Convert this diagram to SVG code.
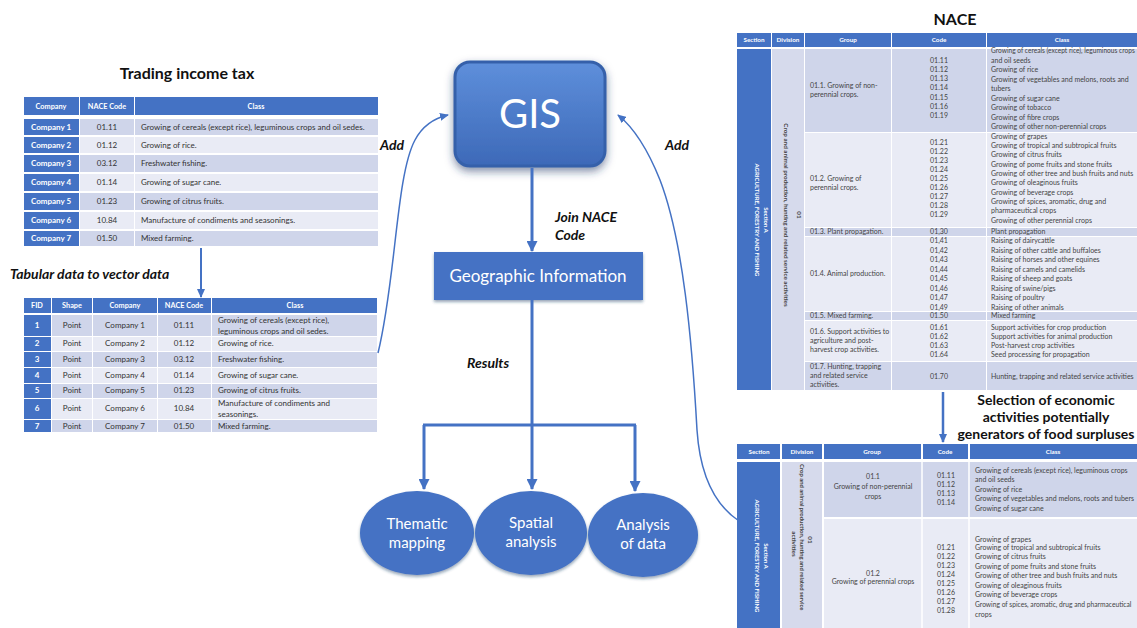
<svg xmlns="http://www.w3.org/2000/svg" width="1137" height="628" viewBox="0 0 1137 628">
<defs>
<style>
text{font-family:Lato,"Liberation Sans",sans-serif}
.hdr{fill:#4472C4}
.lav{fill:#CFD5EA}
.lgt{fill:#E9EBF5}
.div{fill:#D6DAEC}
.ht{fill:#fff;font-weight:bold;font-size:7.3px;text-anchor:middle}
.ct{fill:#333;font-size:8px}
.cc{fill:#333;font-size:8px;text-anchor:middle}
.wt{fill:#fff;font-weight:bold;font-size:8px;text-anchor:middle}
.nh{fill:#fff;font-weight:bold;font-size:6.3px;text-anchor:middle}
.n{fill:#444;font-size:7px}
.nm{fill:#444;font-size:7px;text-anchor:middle}
.rot{fill:#fff;font-weight:bold;font-size:6px;text-anchor:middle}
.rotd{fill:#444;font-weight:bold;font-size:6.3px;text-anchor:middle}
.lbl{fill:#111;font-weight:bold;font-style:italic;font-size:14px}
.ttl{fill:#111;font-weight:bold;font-size:16px;text-anchor:middle}
.sel{fill:#111;font-weight:bold;font-size:14px;text-anchor:middle}
.et{fill:#fff;font-size:15px;text-anchor:middle}
.con{fill:none;stroke:#4472C4}
</style>
<linearGradient id="gisg" x1="0" y1="0" x2="0" y2="1">
<stop offset="0" stop-color="#5E8FDB"/>
<stop offset="1" stop-color="#3D69B8"/>
</linearGradient>
<filter id="sh" x="-20%" y="-20%" width="140%" height="150%">
<feDropShadow dx="0" dy="4" stdDeviation="4" flood-color="#1F3864" flood-opacity="0.55"/>
</filter>
<filter id="sh2" x="-10%" y="-10%" width="120%" height="130%">
<feDropShadow dx="0" dy="2" stdDeviation="1.5" flood-color="#1F3864" flood-opacity="0.45"/>
</filter>
<marker id="ah" markerWidth="11" markerHeight="11" refX="10" refY="5.5" orient="auto" markerUnits="userSpaceOnUse">
<path d="M0,0 L11,5.5 L0,11 z" fill="#4472C4"/>
</marker>
<marker id="ahs" markerWidth="9" markerHeight="8" refX="8" refY="4" orient="auto" markerUnits="userSpaceOnUse">
<path d="M0,0 L9,4 L0,8 z" fill="#4472C4"/>
</marker>
</defs>
<rect width="1137" height="628" fill="#fff"/>

<!-- Titles and labels -->
<g id="labels">
<text class="ttl" x="187" y="79">Trading income tax</text>
<text class="lbl" x="10" y="279">Tabular data to vector data</text>
<text class="lbl" x="380" y="150">Add</text>
<text class="lbl" x="665" y="150">Add</text>
<text class="lbl" x="555" y="222">Join NACE</text>
<text class="lbl" x="555" y="240">Code</text>
<text class="lbl" x="467" y="368">Results</text>
<text class="ttl" x="955" y="25">NACE</text>
<text class="sel" x="1046" y="405">Selection of economic</text>
<text class="sel" x="1046" y="422">activities potentially</text>
<text class="sel" x="1046" y="439">generators of food surpluses</text>
</g>

<!-- Trading income tax table -->
<g id="trading-table">
<rect class="hdr" x="24" y="97" width="55" height="18"/>
<rect class="hdr" x="80" y="97" width="54" height="18"/>
<rect class="hdr" x="135" y="97" width="243" height="18"/>
<text class="ht" x="51" y="109">Company</text>
<text class="ht" x="107" y="109">NACE Code</text>
<text class="ht" x="256" y="109">Class</text>

<rect class="hdr" x="24" y="119" width="55" height="16"/><rect class="lav" x="80" y="119" width="54" height="16"/><rect class="lav" x="135" y="119" width="243" height="16"/>
<rect class="hdr" x="24" y="137" width="55" height="16"/><rect class="lgt" x="80" y="137" width="54" height="16"/><rect class="lgt" x="135" y="137" width="243" height="16"/>
<rect class="hdr" x="24" y="155" width="55" height="17"/><rect class="lav" x="80" y="155" width="54" height="17"/><rect class="lav" x="135" y="155" width="243" height="17"/>
<rect class="hdr" x="24" y="174" width="55" height="17"/><rect class="lgt" x="80" y="174" width="54" height="17"/><rect class="lgt" x="135" y="174" width="243" height="17"/>
<rect class="hdr" x="24" y="193" width="55" height="17"/><rect class="lav" x="80" y="193" width="54" height="17"/><rect class="lav" x="135" y="193" width="243" height="17"/>
<rect class="hdr" x="24" y="212" width="55" height="17"/><rect class="lgt" x="80" y="212" width="54" height="17"/><rect class="lgt" x="135" y="212" width="243" height="17"/>
<rect class="hdr" x="24" y="231" width="55" height="15"/><rect class="lav" x="80" y="231" width="54" height="15"/><rect class="lav" x="135" y="231" width="243" height="15"/>

<text class="wt" x="51" y="130">Company 1</text><text class="cc" x="107" y="130">01.11</text><text class="ct" x="141" y="130">Growing of cereals  (except  rice), leguminous  crops and oil sedes.</text>
<text class="wt" x="51" y="148">Company 2</text><text class="cc" x="107" y="148">01.12</text><text class="ct" x="141" y="148">Growing of rice.</text>
<text class="wt" x="51" y="166">Company 3</text><text class="cc" x="107" y="166">03.12</text><text class="ct" x="141" y="166">Freshwater  fishing.</text>
<text class="wt" x="51" y="185">Company 4</text><text class="cc" x="107" y="185">01.14</text><text class="ct" x="141" y="185">Growing of sugar cane.</text>
<text class="wt" x="51" y="204">Company 5</text><text class="cc" x="107" y="204">01.23</text><text class="ct" x="141" y="204">Growing of citrus fruits.</text>
<text class="wt" x="51" y="223">Company 6</text><text class="cc" x="107" y="223">10.84</text><text class="ct" x="141" y="223">Manufacture  of condiments and seasonings.</text>
<text class="wt" x="51" y="241">Company 7</text><text class="cc" x="107" y="241">01.50</text><text class="ct" x="141" y="241">Mixed farming.</text>
</g>

<!-- Vector data table -->
<g id="vector-table">
<rect class="hdr" x="24" y="298" width="27" height="15"/>
<rect class="hdr" x="52" y="298" width="40" height="15"/>
<rect class="hdr" x="93" y="298" width="64" height="15"/>
<rect class="hdr" x="158" y="298" width="53" height="15"/>
<rect class="hdr" x="212" y="298" width="165" height="15"/>
<text class="ht" x="37" y="308">FID</text>
<text class="ht" x="72" y="308">Shape</text>
<text class="ht" x="125" y="308">Company</text>
<text class="ht" x="184" y="308">NACE Code</text>
<text class="ht" x="295" y="308">Class</text>

<rect class="hdr" x="24" y="315" width="27" height="21"/><rect class="lav" x="52" y="315" width="325" height="21"/>
<rect class="hdr" x="24" y="337" width="27" height="14"/><rect class="lgt" x="52" y="337" width="325" height="14"/>
<rect class="hdr" x="24" y="352" width="27" height="15"/><rect class="lav" x="52" y="352" width="325" height="15"/>
<rect class="hdr" x="24" y="368" width="27" height="15"/><rect class="lgt" x="52" y="368" width="325" height="15"/>
<rect class="hdr" x="24" y="384" width="27" height="14"/><rect class="lav" x="52" y="384" width="325" height="14"/>
<rect class="hdr" x="24" y="399" width="27" height="20"/><rect class="lgt" x="52" y="399" width="325" height="20"/>
<rect class="hdr" x="24" y="420" width="27" height="12"/><rect class="lav" x="52" y="420" width="325" height="12"/>
<g stroke="#fff" stroke-width="1">
<line x1="92.5" y1="315" x2="92.5" y2="432"/>
<line x1="157.5" y1="315" x2="157.5" y2="432"/>
<line x1="211.5" y1="315" x2="211.5" y2="432"/>
</g>

<text class="wt" x="37" y="328">1</text><text class="cc" x="72" y="328">Point</text><text class="cc" x="125" y="328">Company 1</text><text class="cc" x="184" y="328">01.11</text>
<text class="ct" x="218" y="323">Growing of cereals  (except  rice),</text><text class="ct" x="218" y="334">leguminous  crops and oil sedes.</text>
<text class="wt" x="37" y="346">2</text><text class="cc" x="72" y="346">Point</text><text class="cc" x="125" y="346">Company 2</text><text class="cc" x="184" y="346">01.12</text><text class="ct" x="218" y="346">Growing of rice.</text>
<text class="wt" x="37" y="362">3</text><text class="cc" x="72" y="362">Point</text><text class="cc" x="125" y="362">Company 3</text><text class="cc" x="184" y="362">03.12</text><text class="ct" x="218" y="362">Freshwater  fishing.</text>
<text class="wt" x="37" y="378">4</text><text class="cc" x="72" y="378">Point</text><text class="cc" x="125" y="378">Company 4</text><text class="cc" x="184" y="378">01.14</text><text class="ct" x="218" y="378">Growing of sugar cane.</text>
<text class="wt" x="37" y="393">5</text><text class="cc" x="72" y="393">Point</text><text class="cc" x="125" y="393">Company 5</text><text class="cc" x="184" y="393">01.23</text><text class="ct" x="218" y="393">Growing of citrus  fruits.</text>
<text class="wt" x="37" y="411">6</text><text class="cc" x="72" y="411">Point</text><text class="cc" x="125" y="411">Company 6</text><text class="cc" x="184" y="411">10.84</text>
<text class="ct" x="218" y="406">Manufacture  of condiments and</text><text class="ct" x="218" y="417">seasonings.</text>
<text class="wt" x="37" y="429">7</text><text class="cc" x="72" y="429">Point</text><text class="cc" x="125" y="429">Company 7</text><text class="cc" x="184" y="429">01.50</text><text class="ct" x="218" y="429">Mixed farming.</text>
</g>

<!-- GIS -->
<g id="gis">
<rect x="455" y="62" width="150" height="104" rx="15" fill="url(#gisg)" stroke="#3560AA" stroke-width="3" filter="url(#sh)"/>
<text x="530" y="128" fill="#fff" font-size="40" text-anchor="middle">GIS</text>
</g>

<!-- Geographic Information -->
<g id="geo-info">
<rect x="434" y="252" width="209" height="48" fill="#4472C4" filter="url(#sh2)"/>
<text x="538" y="282" fill="#fff" font-size="17" text-anchor="middle">Geographic  Information</text>
</g>

<g id="thematic">
<ellipse cx="417" cy="533" rx="57" ry="42" fill="#4472C4" filter="url(#sh2)"/>
<text class="et" x="417" y="529">Thematic</text>
<text class="et" x="417" y="548">mapping</text>
</g>
<g id="spatial">
<ellipse cx="531" cy="533" rx="56" ry="42" fill="#4472C4" filter="url(#sh2)"/>
<text class="et" x="531" y="528">Spatial</text>
<text class="et" x="531" y="547">analysis</text>
</g>
<g id="analysis">
<ellipse cx="643" cy="535" rx="55" ry="42" fill="#4472C4" filter="url(#sh2)"/>
<text class="et" x="643" y="530">Analysis</text>
<text class="et" x="643" y="549">of data</text>
</g>

<!-- NACE table -->
<g id="nace-table">
<rect class="hdr" x="737" y="33" width="34" height="14"/>
<rect class="hdr" x="772" y="33" width="32" height="14"/>
<rect class="hdr" x="805" y="33" width="86" height="14"/>
<rect class="hdr" x="892" y="33" width="94" height="14"/>
<rect class="hdr" x="987" y="33" width="150" height="14"/>
<text class="nh" x="754" y="42">Section</text>
<text class="nh" x="788" y="42">Division</text>
<text class="nh" x="848" y="42">Group</text>
<text class="nh" x="939" y="42">Code</text>
<text class="nh" x="1062" y="42">Class</text>

<rect class="hdr" x="737" y="49" width="34" height="341"/>
<rect class="div" x="772" y="49" width="32" height="341"/>
<rect class="lav" x="805" y="49" width="332" height="83"/>
<rect class="lgt" x="805" y="133" width="332" height="94"/>
<rect class="lav" x="805" y="228" width="332" height="8"/>
<rect class="lgt" x="805" y="237" width="332" height="74"/>
<rect class="lav" x="805" y="312" width="332" height="8"/>
<rect class="lgt" x="805" y="321" width="332" height="40"/>
<rect class="lav" x="805" y="362" width="332" height="28"/>
<g stroke="#fff" stroke-width="1">
<line x1="891.5" y1="49" x2="891.5" y2="390"/>
<line x1="986.5" y1="49" x2="986.5" y2="390"/>
</g>

<g transform="translate(764,220) rotate(90)"><text class="rot" x="0" y="0">Section A</text></g>
<g transform="translate(755,220) rotate(90)"><text class="rot" x="0" y="0">AGRICULTURE, FORESTRY AND FISHING</text></g>
<g transform="translate(797,215) rotate(90)"><text class="rotd" x="0" y="0">01</text></g>
<g transform="translate(784,215) rotate(90)"><text class="rotd" x="0" y="0">Crop and animal production, hunting and related service activities</text></g>

<text class="n" x="810" y="88">01.1. Growing of non-</text>
<text class="n" x="810" y="97">perennial crops.</text>
<text class="nm" x="939" y="63">01.11</text><text class="nm" x="939" y="72">01.12</text><text class="nm" x="939" y="81">01.13</text><text class="nm" x="939" y="90">01.14</text><text class="nm" x="939" y="100">01.15</text><text class="nm" x="939" y="109">01.16</text><text class="nm" x="939" y="118">01.19</text>
<text class="n" x="991" y="53" style="font-size:6.6px">Growing of cereals (except  rice), leguminous crops</text>
<text class="n" x="991" y="62.5">and oil seeds</text>
<text class="n" x="991" y="72">Growing of rice</text>
<text class="n" x="991" y="81.5">Growing of vegetables and melons, roots and</text>
<text class="n" x="991" y="91">tubers</text>
<text class="n" x="991" y="100.5">Growing of sugar cane</text>
<text class="n" x="991" y="110">Growing of tobacco</text>
<text class="n" x="991" y="119.5">Growing of fibre crops</text>
<text class="n" x="991" y="129">Growing of other non-perennial crops</text>

<text class="n" x="810" y="181">01.2. Growing of</text>
<text class="n" x="810" y="190">perennial crops.</text>
<text class="nm" x="939" y="145">01.21</text><text class="nm" x="939" y="154">01.22</text><text class="nm" x="939" y="163">01.23</text><text class="nm" x="939" y="172">01.24</text><text class="nm" x="939" y="181">01.25</text><text class="nm" x="939" y="190">01.26</text><text class="nm" x="939" y="199">01.27</text><text class="nm" x="939" y="208">01.28</text><text class="nm" x="939" y="217">01.29</text>
<text class="n" x="991" y="139">Growing of grapes</text>
<text class="n" x="991" y="148">Growing of tropical and subtropical fruits</text>
<text class="n" x="991" y="157">Growing of citrus fruits</text>
<text class="n" x="991" y="167">Growing of pome fruits and stone fruits</text>
<text class="n" x="991" y="176">Growing of other tree and bush fruits and nuts</text>
<text class="n" x="991" y="185">Growing of oleaginous fruits</text>
<text class="n" x="991" y="195">Growing of beverage crops</text>
<text class="n" x="991" y="204">Growing of spices, aromatic, drug and</text>
<text class="n" x="991" y="213">pharmaceutical crops</text>
<text class="n" x="991" y="223">Growing of other perennial crops</text>

<text class="n" x="810" y="234">01.3. Plant propagation.</text>
<text class="nm" x="939" y="234">01,30</text>
<text class="n" x="991" y="234">Plant propagation</text>

<text class="n" x="810" y="276">01.4. Animal production.</text>
<text class="nm" x="939" y="243">01,41</text><text class="nm" x="939" y="252.5">01,42</text><text class="nm" x="939" y="262">01,43</text><text class="nm" x="939" y="271.5">01,44</text><text class="nm" x="939" y="281">01,45</text><text class="nm" x="939" y="290.5">01,46</text><text class="nm" x="939" y="300">01,47</text><text class="nm" x="939" y="309.5">01,49</text>
<text class="n" x="991" y="243">Raising of dairycattle</text>
<text class="n" x="991" y="252.5">Raising of other cattle and buffaloes</text>
<text class="n" x="991" y="262">Raising of horses and other equines</text>
<text class="n" x="991" y="271.5">Raising of camels and camelids</text>
<text class="n" x="991" y="281">Raising of sheep and goats</text>
<text class="n" x="991" y="290.5">Raising of swine/pigs</text>
<text class="n" x="991" y="300">Raising of poultry</text>
<text class="n" x="991" y="309.5">Raising of other animals</text>

<text class="n" x="810" y="318">01.5. Mixed farming.</text>
<text class="nm" x="939" y="318">01.50</text>
<text class="n" x="991" y="318">Mixed farming</text>

<text class="n" x="810" y="334">01.6. Support activities to</text>
<text class="n" x="810" y="343">agriculture and post-</text>
<text class="n" x="810" y="352">harvest crop activities.</text>
<text class="nm" x="939" y="330">01.61</text><text class="nm" x="939" y="339">01.62</text><text class="nm" x="939" y="348">01.63</text><text class="nm" x="939" y="357">01.64</text>
<text class="n" x="991" y="330">Support activities for crop production</text>
<text class="n" x="991" y="339">Support activities for animal production</text>
<text class="n" x="991" y="348">Post-harvest crop activities</text>
<text class="n" x="991" y="357">Seed processing for propagation</text>

<text class="n" x="810" y="369">01.7. Hunting, trapping</text>
<text class="n" x="810" y="378">and related service</text>
<text class="n" x="810" y="387">activities.</text>
<text class="nm" x="939" y="379">01.70</text>
<text class="n" x="991" y="379">Hunting, trapping and related service activities</text>
</g>

<!-- Selected NACE table -->
<g id="selected-table">
<rect class="hdr" x="737" y="444" width="43" height="15"/>
<rect class="hdr" x="782" y="444" width="40" height="15"/>
<rect class="hdr" x="824" y="444" width="97" height="15"/>
<rect class="hdr" x="923" y="444" width="45" height="15"/>
<rect class="hdr" x="970" y="444" width="167" height="15"/>
<text class="nh" x="759" y="454">Section</text>
<text class="nh" x="802" y="454">Division</text>
<text class="nh" x="872" y="454">Group</text>
<text class="nh" x="945" y="454">Code</text>
<text class="nh" x="1053" y="454">Class</text>

<rect class="hdr" x="737" y="462" width="43" height="166"/>
<rect class="div" x="782" y="462" width="40" height="166"/>
<rect class="lav" x="824" y="462" width="313" height="55"/>
<rect class="lgt" x="824" y="519" width="313" height="109"/>
<g stroke="#fff" stroke-width="1.5">
<line x1="922" y1="462" x2="922" y2="628"/>
<line x1="969" y1="462" x2="969" y2="628"/>
</g>

<g transform="translate(764,556) rotate(90)"><text class="rot" x="0" y="0">Section A</text></g>
<g transform="translate(755,556) rotate(90)"><text class="rot" x="0" y="0">AGRICULTURE, FORESTRY AND FISHING</text></g>
<g transform="translate(808,540) rotate(90)"><text class="rotd" x="0" y="0">01</text></g>
<g transform="translate(800,464) rotate(90)"><text class="rotd" x="0" y="0" style="text-anchor:start;font-size:5.9px">Crop and animal production, hunting and related service</text></g>
<g transform="translate(792,544) rotate(90)"><text class="rotd" x="0" y="0">activities</text></g>

<text class="nm" x="873" y="479">01.1</text>
<text class="nm" x="873" y="489">Growing of non-perennial</text>
<text class="nm" x="873" y="499">crops</text>
<text class="nm" x="946" y="478">01.11</text><text class="nm" x="946" y="487">01.12</text><text class="nm" x="946" y="496">01.13</text><text class="nm" x="946" y="505">01.14</text>
<text class="n" x="975" y="473">Growing of cereals (except  rice), leguminous crops</text>
<text class="n" x="975" y="482">and oil seeds</text>
<text class="n" x="975" y="492">Growing of rice</text>
<text class="n" x="975" y="501">Growing of vegetables and melons, roots and tubers</text>
<text class="n" x="975" y="511">Growing of sugar cane</text>

<text class="nm" x="873" y="576">01.2</text>
<text class="nm" x="873" y="584">Growing of perennial crops</text>
<text class="nm" x="946" y="550">01.21</text><text class="nm" x="946" y="559">01.22</text><text class="nm" x="946" y="568">01.23</text><text class="nm" x="946" y="577">01.24</text><text class="nm" x="946" y="586">01.25</text><text class="nm" x="946" y="595">01.26</text><text class="nm" x="946" y="604">01.27</text><text class="nm" x="946" y="613">01.28</text>
<text class="n" x="975" y="542">Growing of grapes</text>
<text class="n" x="975" y="550">Growing of tropical and subtropical fruits</text>
<text class="n" x="975" y="559">Growing of citrus fruits</text>
<text class="n" x="975" y="569">Growing of pome fruits and stone fruits</text>
<text class="n" x="975" y="578">Growing of other tree and bush fruits and nuts</text>
<text class="n" x="975" y="588">Growing of oleaginous fruits</text>
<text class="n" x="975" y="597">Growing of beverage crops</text>
<text class="n" x="975" y="607" style="font-size:6.7px">Growing of spices, aromatic, drug and pharmaceutical</text>
<text class="n" x="975" y="617">crops</text>
</g>

<!-- Connectors -->
<g id="connectors">
<path class="con" stroke-width="2" d="M201,248 L201,297" marker-end="url(#ahs)"/>
<path class="con" stroke-width="1.5" d="M378,353 C396,280 396,175 415,140 C423,125 435,118 448,115" marker-end="url(#ahs)"/>
<path class="con" stroke-width="1.5" d="M739,521 C715,505 700,475 697,430 C692,340 683,240 660,180 C648,150 633,127 618,115" marker-end="url(#ahs)"/>
<path class="con" stroke-width="3" d="M532,168 L532,251" marker-end="url(#ah)"/>
<path class="con" stroke-width="3" d="M532,300 L532,425"/>
<path class="con" stroke-width="3" d="M423,425 L636,425"/>
<path class="con" stroke-width="3" d="M424,425 L424,489" marker-end="url(#ah)"/>
<path class="con" stroke-width="3" d="M532,425 L532,489" marker-end="url(#ah)"/>
<path class="con" stroke-width="3" d="M635,425 L635,491" marker-end="url(#ah)"/>
<path class="con" stroke-width="2.5" d="M943,392 L943,442" marker-end="url(#ahs)"/>
</g>
</svg>
